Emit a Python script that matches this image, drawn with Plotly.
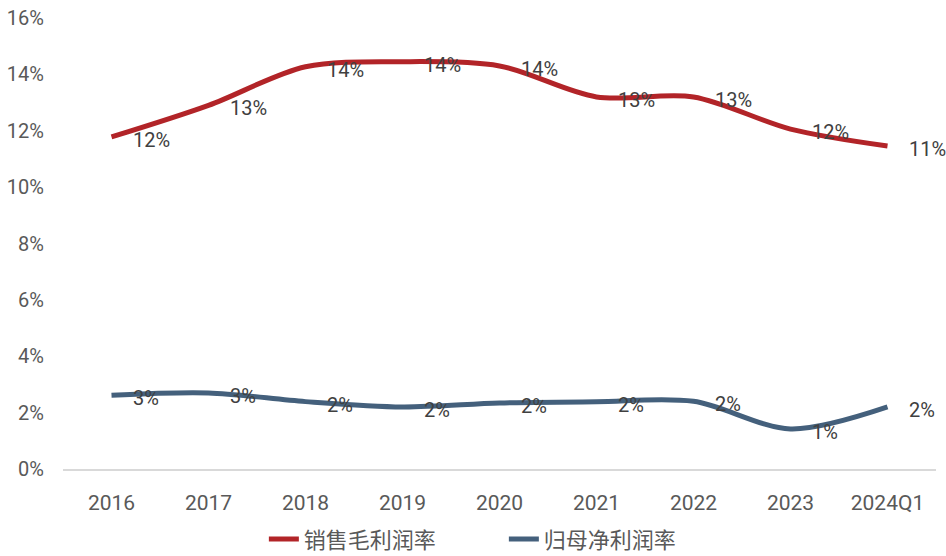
import plotly.graph_objects as go

# Periods and margin series (fractions)
periods = ["2016", "2017", "2018", "2019", "2020", "2021", "2022", "2023", "2024Q1"]
gross_margin = [0.1178, 0.1290, 0.1427, 0.1445, 0.1430, 0.1320, 0.1320, 0.1206, 0.1146]
net_margin = [0.0262, 0.0270, 0.0239, 0.0220, 0.0234, 0.0239, 0.0240, 0.0142, 0.0220]
y_ticks = [0, 0.02, 0.04, 0.06, 0.08, 0.10, 0.12, 0.14, 0.16]

series = [
    ("销售毛利润率", gross_margin, "#B22428"),
    ("归母净利润率", net_margin, "#44607C"),
]

NUM_FONT = "Roboto, Arial, sans-serif"
CJK_FONT = "Noto Sans CJK SC, sans-serif"

xpos = list(range(len(periods)))

fig = go.Figure()
for name, vals, color in series:
    fig.add_trace(go.Scatter(
        x=xpos, y=vals, name=name, mode="lines",
        line=dict(color=color, width=5, shape="spline", smoothing=0.9),
        hoverinfo="skip",
    ))

# Value labels to the right of each point
annotations = []
for name, vals, color in series:
    for i, v in zip(xpos, vals):
        annotations.append(dict(
            x=i, y=v, xref="x", yref="y", text=f"{round(v * 100):.0f}%",
            showarrow=False, xanchor="left", yanchor="middle",
            xshift=19, yshift=-3,
            font=dict(family=NUM_FONT, size=20, color="#404040"),
        ))

fig.update_layout(
    width=946, height=556,
    margin=dict(l=63, r=10, t=18, b=87, autoexpand=False),
    paper_bgcolor="white", plot_bgcolor="white",
    annotations=annotations,
    showlegend=True,
    legend=dict(
        orientation="h", x=0.505, xanchor="center",
        yref="container", y=0.03, yanchor="middle",
        font=dict(family=CJK_FONT, size=22, color="#595959"),
        entrywidth=195, entrywidthmode="pixels",
    ),
    xaxis=dict(
        range=[-0.5, len(periods) - 0.5],
        tickvals=xpos, ticktext=periods,
        showgrid=False, zeroline=False,
        showline=True, linecolor="#D9D9D9", linewidth=2,
        ticks="", ticklabelstandoff=14,
        tickfont=dict(family=NUM_FONT, size=21, color="#595959"),
        fixedrange=True,
    ),
    yaxis=dict(
        range=[0, 0.16], tickvals=y_ticks, tickformat=".0%",
        showgrid=False, zeroline=False, showline=False, ticks="",
        ticklabelstandoff=18,
        tickfont=dict(family=NUM_FONT, size=20, color="#595959"),
        fixedrange=True,
    ),
)

fig.write_html("out.html")
